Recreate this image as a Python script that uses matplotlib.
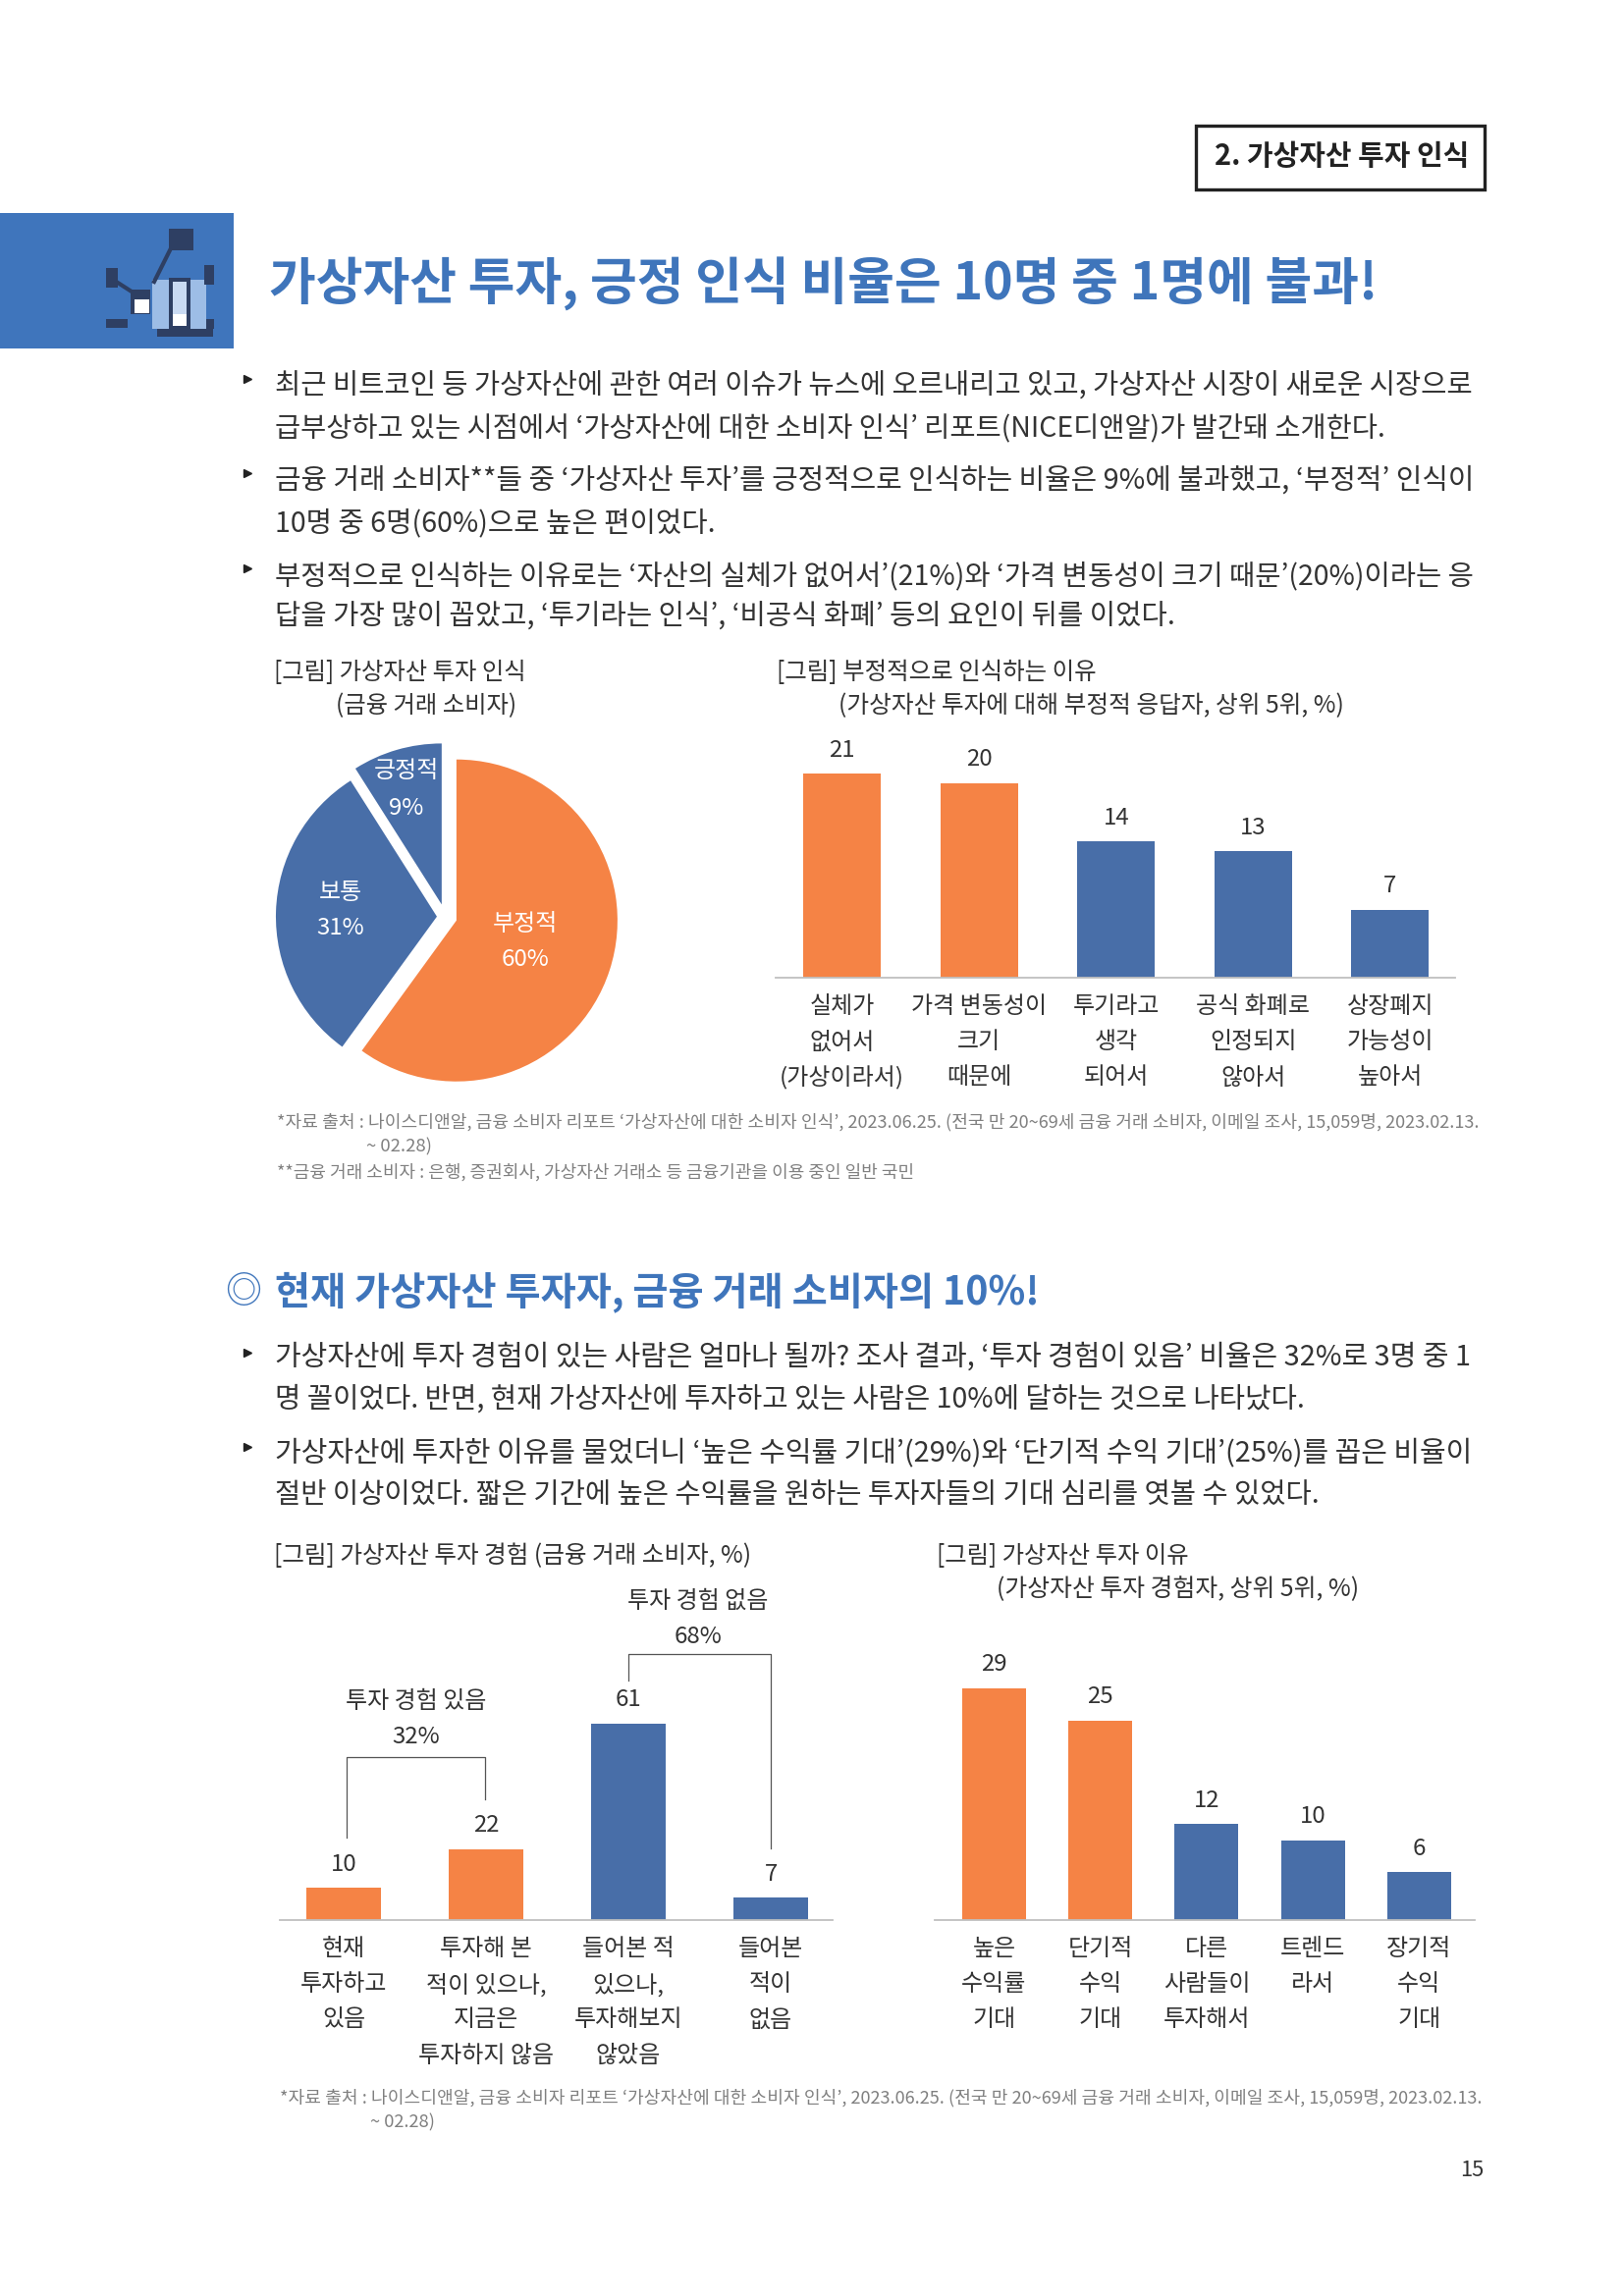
import matplotlib
matplotlib.use("Agg")
import matplotlib.pyplot as plt
from matplotlib.patches import Rectangle

plt.rcParams['font.family'] = ['Noto Sans CJK KR', 'DejaVu Sans']

# ---------- data ----------
pie_labels = ['부정적', '보통', '긍정적']
pie_values = [60, 31, 9]

neg_labels = [['실체가', '없어서', '(가상이라서)'], ['가격 변동성이', '크기', '때문에'],
              ['투기라고', '생각', '되어서'], ['공식 화폐로', '인정되지', '않아서'],
              ['상장폐지', '가능성이', '높아서']]
neg_values = [21, 20, 14, 13, 7]

exp_labels = [['현재', '투자하고', '있음'], ['투자해 본', '적이 있으나,', '지금은', '투자하지 않음'],
              ['들어본 적', '있으나,', '투자해보지', '않았음'], ['들어본', '적이', '없음']]
exp_values = [10, 22, 61, 7]

why_labels = [['높은', '수익률', '기대'], ['단기적', '수익', '기대'],
              ['다른', '사람들이', '투자해서'], ['트렌드', '라서'], ['장기적', '수익', '기대']]
why_values = [29, 25, 12, 10, 6]

body_top = ['최근 비트코인 등 가상자산에 관한 여러 이슈가 뉴스에 오르내리고 있고, 가상자산 시장이 새로운 시장으로',
            '급부상하고 있는 시점에서 ‘가상자산에 대한 소비자 인식’ 리포트(NICE디앤알)가 발간돼 소개한다.',
            '금융 거래 소비자**들 중 ‘가상자산 투자’를 긍정적으로 인식하는 비율은 9%에 불과했고, ‘부정적’ 인식이',
            '10명 중 6명(60%)으로 높은 편이었다.',
            '부정적으로 인식하는 이유로는 ‘자산의 실체가 없어서’(21%)와 ‘가격 변동성이 크기 때문’(20%)이라는 응',
            '답을 가장 많이 꼽았고, ‘투기라는 인식’, ‘비공식 화폐’ 등의 요인이 뒤를 이었다.']
body_bottom = ['가상자산에 투자 경험이 있는 사람은 얼마나 될까? 조사 결과, ‘투자 경험이 있음’ 비율은 32%로 3명 중 1',
               '명 꼴이었다. 반면, 현재 가상자산에 투자하고 있는 사람은 10%에 달하는 것으로 나타났다.',
               '가상자산에 투자한 이유를 물었더니 ‘높은 수익률 기대’(29%)와 ‘단기적 수익 기대’(25%)를 꼽은 비율이',
               '절반 이상이었다. 짧은 기간에 높은 수익률을 원하는 투자자들의 기대 심리를 엿볼 수 있었다.']
source = '*자료 출처 : 나이스디앤알, 금융 소비자 리포트 ‘가상자산에 대한 소비자 인식’, 2023.06.25. (전국 만 20~69세 금융 거래 소비자, 이메일 조사, 15,059명, 2023.02.13.'

ORANGE, BLUE, TITLE, DARK, GREY = '#F58345', '#486EA8', '#3F75BB', '#333333', '#808080'
W, H = 1653, 2339
PX = 0.72  # pt per pixel at dpi 100
DY = 3     # vertical optical correction of centred text

fig = plt.figure(figsize=(W / 100, H / 100), dpi=100, facecolor='white')
pg = fig.add_axes([0, 0, 1, 1], zorder=5)
pg.set_xlim(0, W); pg.set_ylim(H, 0); pg.axis('off')
renderer = fig.canvas.get_renderer()


def T(s, x, y, px=24, color=DARK, ha='center', weight='normal', x1=None):
    t = pg.text(x, y + DY, s, fontsize=px * PX, color=color, ha=ha, va='center', fontweight=weight)
    if x1 is not None:
        w = t.get_window_extent(renderer).width
        t.set_fontsize(px * PX * (x1 - x) / w)
    return t


def bars(x0, x1, base, top, unit, first, step, width, values, colors, labels, gaps, line_ys):
    ax = fig.add_axes([x0 / W, 1 - base / H, (x1 - x0) / W, (base - top) / H])
    ax.patch.set_alpha(0)
    xs = list(range(len(values)))
    ax.bar(xs, values, width=width, color=colors, linewidth=0)
    ax.set_xlim((x0 - first) / step, (x1 - first) / step)
    ax.set_ylim(0, (base - top) / unit)
    for s in ('top', 'left', 'right'):
        ax.spines[s].set_visible(False)
    ax.spines['bottom'].set_color('#BFBFBF')
    ax.spines['bottom'].set_linewidth(1.3)
    ax.set_yticks([]); ax.set_xticks(xs); ax.set_xticklabels([]); ax.tick_params(length=0)
    for i, v in enumerate(values):
        ax.annotate(str(v), xy=(i, v), xytext=(0, gaps * PX), textcoords='offset points',
                    ha='center', va='center', fontsize=24 * PX, color=DARK)
        for k, ln in enumerate(labels[i]):
            ax.annotate(ln, xy=(i, 0), xytext=(0, -line_ys[k] * PX), textcoords='offset points',
                        ha='center', va='center', fontsize=24 * PX, color=DARK)
    return ax


# ---------- page furniture ----------
pg.add_patch(Rectangle((1218, 128), 294, 65, fc='white', ec='#222222', lw=2.4))
T('2. 가상자산 투자 인식', 1237, 156, 30, '#222222', 'left', 'bold', x1=1496)
pg.add_patch(Rectangle((0, 217), 238, 138, fc='#3F75BC', ec='none'))

# icon
ICON = '#2E3F63'
for (x, y, w, h, c) in [(155, 285, 55, 50, '#9DBDE6'), (172, 283, 22, 52, ICON), (176, 287, 14, 45, '#C9DAF2'),
                        (176, 320, 14, 12, 'white'), (133, 295, 20, 25, ICON), (137, 305, 15, 14, 'white'),
                        (172, 233, 25, 22, ICON), (108, 273, 12, 20, ICON), (208, 270, 10, 20, ICON),
                        (108, 325, 22, 9, ICON), (160, 335, 57, 8, ICON), (210, 325, 8, 10, ICON)]:
    pg.add_patch(Rectangle((x, y), w, h, fc=c, ec='none'))
pg.plot([173, 157], [255, 287], color=ICON, lw=3)
pg.plot([120, 134], [288, 297], color=ICON, lw=3)

T('가상자산 투자, 긍정 인식 비율은 10명 중 1명에 불과!', 274, 286, 56, TITLE, 'left', 'bold', x1=1403)

for s, y, x1 in zip(body_top, [390, 433, 487, 530, 584, 625], [1504, 1414, 1504, 729, 1504, 1198]):
    T(s, 280, y, 30, DARK, 'left', x1=x1)
pg.plot([252] * 3, [386, 482, 579], ls='none', marker='>', ms=5.5, color='#222222')

# ---------- first row ----------
T('[그림] 가상자산 투자 인식', 279, 682, 25, DARK, 'left', x1=536)
T('(금융 거래 소비자)', 342, 716, 25, DARK, 'left', x1=526)
T('[그림] 부정적으로 인식하는 이유', 791, 682, 25, DARK, 'left', x1=1117)
T('(가상자산 투자에 대해 부정적 응답자, 상위 5위, %)', 854, 716, 25, DARK, 'left', x1=1369)

cx, cy, R, half = 453.5, 934, 164, 215
pax = fig.add_axes([(cx - half) / W, 1 - (cy + half) / H, 2 * half / W, 2 * half / H])
pax.pie(pie_values, explode=[0.073, 0.052, 0.08], colors=[ORANGE, BLUE, BLUE], startangle=90,
        counterclock=False, radius=1, wedgeprops={'linewidth': 0})
pax.set_xlim(-half / R, half / R); pax.set_ylim(-half / R, half / R); pax.axis('off')
for name, v, x, y0, y1 in zip(pie_labels, pie_values, [535, 347, 414], [938, 907, 782], [974, 943, 820]):
    T(name, x, y0, 24, 'white')
    T(f'{v}%', x, y1, 24, 'white')

bars(790, 1482, 996, 750, 9.9, 857.5, 139.6, 0.565, neg_values,
     [ORANGE, ORANGE, BLUE, BLUE, BLUE], neg_labels, 24, [30, 66, 102])

T(source, 282, 1140, 18, GREY, 'left', x1=1500)
T('~ 02.28)', 373, 1165, 18, GREY, 'left', x1=440)
T('**금융 거래 소비자 : 은행, 증권회사, 가상자산 거래소 등 금융기관을 이용 중인 일반 국민', 282, 1191, 18, GREY, 'left', x1=928)

# ---------- second section ----------
T('◎', 229, 1313, 40, TITLE, 'left', x1=266)
T('현재 가상자산 투자자, 금융 거래 소비자의 10%!', 280, 1313, 40, TITLE, 'left', 'bold', x1=1058)
for s, y, x1 in zip(body_bottom, [1380, 1423, 1477, 1520], [1501, 1330, 1503, 1347]):
    T(s, 280, y, 30, DARK, 'left', x1=x1)
pg.plot([252] * 2, [1378, 1474], ls='none', marker='>', ms=5.5, color='#222222')

T('[그림] 가상자산 투자 경험 (금융 거래 소비자, %)', 279, 1582, 25, DARK, 'left', x1=766)
T('[그림] 가상자산 투자 이유', 954, 1582, 25, DARK, 'left', x1=1211)
T('(가상자산 투자 경험자, 상위 5위, %)', 1015, 1616, 25, DARK, 'left', x1=1384)

bars(285, 848, 1956, 1700, 3.28, 350, 145, 0.524, exp_values,
     [ORANGE, ORANGE, BLUE, BLUE], exp_labels, 24, [30, 66, 102, 138])
bars(952, 1502, 1956, 1700, 8.14, 1012.5, 108.2, 0.6, why_values,
     [ORANGE, ORANGE, BLUE, BLUE, BLUE], why_labels, 24, [30, 66, 102, 138])

# brackets and their labels
pg.plot([353, 353, 494, 494], [1872, 1790, 1790, 1833], color='#555555', lw=0.9)
pg.plot([640, 640, 785, 785], [1712, 1685, 1685, 1883], color='#555555', lw=0.9)
T('투자 경험 있음', 424, 1731, 24)
T('32%', 424, 1767, 24)
T('투자 경험 없음', 711, 1628, 24)
T('68%', 711, 1664, 24)

T(source, 285, 2134, 18, GREY, 'left', x1=1503)
T('~ 02.28)', 377, 2159, 18, GREY, 'left', x1=443)
T('15', 1499, 2208, 22, '#333333')

fig.savefig('out.png', dpi=100, facecolor='white')
